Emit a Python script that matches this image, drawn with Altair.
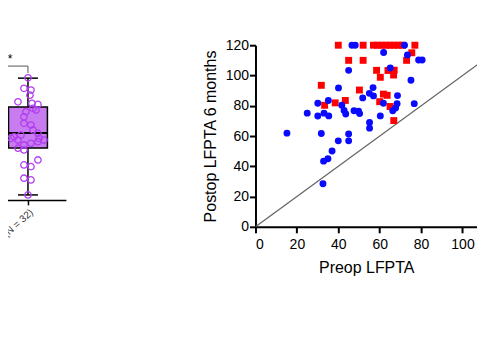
import altair as alt
import pandas as pd

# ---- right panel: scatter ----
red_x = [40, 52, 57, 59, 61, 63, 65, 67, 69, 71, 77, 45, 52, 73, 75.5,
         58.5, 64, 67, 60.3, 66.7, 31.8, 33.4, 38.5, 43.4, 50.2, 61.8, 63.6, 60, 65, 66.8]
red_y = [120, 120, 120, 120, 120, 120, 120, 120, 120, 120, 120, 110, 110, 110, 115,
         103.4, 103.3, 103.5, 98.8, 100.3, 93.5, 80.3, 81.9, 83.5, 90.4, 87.7, 86.9, 82.7, 79.5, 70.2]

blue_x = [46.6, 48.2, 72, 61.9, 73.4, 78.8, 80.5, 65.1, 45, 75.1, 40.1, 56.8, 55, 57, 51.8,
          68.6, 30.1, 35.2, 25, 30.1, 33.1, 35.4, 41.7, 42.8, 43.6, 47.6, 49.8, 50.3,
          61.8, 68.4, 67.7, 66.3, 76.7, 60.3, 55.1, 55.1, 15.2, 31.8, 45, 40, 45,
          37, 35, 32.9, 32.6]
blue_y = [120, 120, 120, 115.2, 113.5, 110.2, 110.2, 104.9, 103.4, 96.8, 91.8, 92, 88.2, 86.5, 85.2,
          86.7, 81.6, 83.5, 75.1, 73.2, 75.1, 73.3, 80.3, 76.9, 74.6, 76.7, 76.4, 74.8,
          81.6, 81.4, 78.5, 76.7, 81.4, 73.3, 68.9, 65.2, 61.9, 61.7, 61.3, 56.8, 56.8,
          50.1, 45, 43.4, 28.5]

diag_x = [0, 120]
diag_y = [0, 120]

x_ticks = [0, 20, 40, 60, 80, 100]
y_ticks = [0, 20, 40, 60, 80, 100, 120]

# ---- left panel: box plot (partial) ----
purple_y = [78.9, 72.1, 71.0, 67.7, 63.4, 62.4, 61.7, 59.2, 58.1, 57.0, 53.7, 49.5, 48.4,
            45.2, 43.0, 41.9, 40.8, 39.8, 38.7, 39.8, 38.7, 37.6, 36.6, 35.5, 33.4, 32.3,
            25.8, 22.6, 21.5, 14.0, 12.9, 3.2]
purple_jitter = [0, -4, 3, 2, -10, 4, 10, 5, 8, -2, -4, -4, 3, 5, 10, -7, -14, -17, -10,
                 11, 16, 10, 3, -4, -10, -4, 10, -4, 3, -4, 3, 0]
box_stats = {"min": 3.2, "q1": 33.5, "median": 43.2, "q3": 60.0, "max": 78.7}
group_label = "(N = 32)"
bracket_y = [86.5, 82.1]

FONT = "Liberation Sans"

red_df = pd.DataFrame({"x": red_x, "y": red_y})
blue_df = pd.DataFrame({"x": blue_x, "y": blue_y})
diag_df = pd.DataFrame({"x": diag_x, "y": diag_y})

xs = alt.Scale(domain=[0, 107], nice=False)
ys = alt.Scale(domain=[0, 120], nice=False)

xaxis = alt.Axis(values=x_ticks, title="Preop LFPTA", grid=False, domainColor="black",
                 domainWidth=2, tickColor="black", tickWidth=2, tickSize=6,
                 labelFontSize=14, labelColor="black", labelPadding=5, titleFontSize=16,
                 titleFontWeight="normal", titleColor="black", titlePadding=8,
                 labelFont=FONT, titleFont=FONT, labelOverlap=False)
yaxis = alt.Axis(values=y_ticks, title="Postop LFPTA 6 months", grid=False, domainColor="black",
                 domainWidth=2, tickColor="black", tickWidth=2, tickSize=6,
                 labelFontSize=14, labelColor="black", labelPadding=1, titleFontSize=16,
                 titleFontWeight="normal", titleColor="black", titlePadding=7,
                 labelFont=FONT, titleFont=FONT, labelOverlap=False)

diag = alt.Chart(diag_df).mark_line(color="#666666", strokeWidth=1.2, clip=True)
reds = alt.Chart(red_df).mark_square(color="#ff0000", opacity=1, size=48)
blues = alt.Chart(blue_df).mark_circle(color="#0a0aff", opacity=1, size=48)

right = alt.layer(diag, reds, blues).encode(
    x=alt.X("x:Q", scale=xs, axis=xaxis),
    y=alt.Y("y:Q", scale=ys, axis=yaxis),
).properties(width=222, height=182)

# left panel
lx = alt.Scale(domain=[-38, 38], nice=False)
ly = alt.Scale(domain=[0, 100], nice=False)
left_xaxis = alt.Axis(values=[0], labelExpr=f"'{group_label}'", grid=False, title=None,
                      domainColor="black", domainWidth=1.5, tickColor="black", tickWidth=1.5,
                      tickSize=5, labelAngle=-42, labelFontSize=10, labelColor="#333333",
                      labelFont=FONT, labelPadding=2)

pts_df = pd.DataFrame({"j": purple_jitter, "v": purple_y})
stats_df = pd.DataFrame([box_stats])
br_df = pd.DataFrame({"y1": [bracket_y[0]], "y2": [bracket_y[1]]})

base_axis = alt.Chart(stats_df).mark_rule(opacity=0).encode(
    x=alt.X(datum=0, type="quantitative", scale=lx, axis=left_xaxis),
    y=alt.Y(datum=0, type="quantitative", scale=ly, axis=None))
wh_top = alt.Chart(stats_df).mark_rule(color="black", strokeWidth=1.5).encode(
    x=alt.X(datum=0, type="quantitative", scale=lx), y=alt.Y("q3:Q", scale=ly), y2="max:Q")
wh_bot = alt.Chart(stats_df).mark_rule(color="black", strokeWidth=1.5).encode(
    x=alt.X(datum=0, type="quantitative", scale=lx), y=alt.Y("min:Q", scale=ly), y2="q1:Q")
cap_top = alt.Chart(stats_df).mark_rule(color="black", strokeWidth=1.5).encode(
    x=alt.X(datum=-10, type="quantitative", scale=lx), x2=alt.datum(10),
    y=alt.Y("max:Q", scale=ly))
cap_bot = alt.Chart(stats_df).mark_rule(color="black", strokeWidth=1.5).encode(
    x=alt.X(datum=-10, type="quantitative", scale=lx), x2=alt.datum(10),
    y=alt.Y("min:Q", scale=ly))
box = alt.Chart(stats_df).mark_rect(fill="#c97cef", stroke="black", strokeWidth=1.5).encode(
    x=alt.X(datum=-19.5, type="quantitative", scale=lx), x2=alt.datum(19.5),
    y=alt.Y("q1:Q", scale=ly), y2="q3:Q")
med = alt.Chart(stats_df).mark_rule(color="black", strokeWidth=2).encode(
    x=alt.X(datum=-19.5, type="quantitative", scale=lx), x2=alt.datum(19.5),
    y=alt.Y("median:Q", scale=ly))
pts = alt.Chart(pts_df).mark_point(shape="circle", filled=False, color="#b13ff0",
                                   strokeWidth=1.3, size=42, opacity=1).encode(
    x=alt.X("j:Q", scale=lx), y=alt.Y("v:Q", scale=ly))
br_h = alt.Chart(br_df).mark_rule(color="#555555", strokeWidth=1).encode(
    x=alt.X(datum=-38, type="quantitative", scale=lx), x2=alt.datum(0),
    y=alt.Y("y1:Q", scale=ly))
br_v = alt.Chart(br_df).mark_rule(color="#555555", strokeWidth=1).encode(
    x=alt.X(datum=0, type="quantitative", scale=lx), y=alt.Y("y1:Q", scale=ly), y2="y2:Q")
star = alt.Chart(br_df).mark_text(text="*", fontSize=12, font=FONT, color="black",
                                  baseline="middle").encode(
    x=alt.X(datum=-18, type="quantitative", scale=lx), y=alt.datum(91))

left = alt.layer(base_axis, wh_top, wh_bot, cap_top, cap_bot, box, med, pts,
                 br_h, br_v, star).properties(width=76, height=155)

chart = alt.hconcat(left, right, spacing=190, bounds="flush").properties(
    padding={"left": -19, "top": 30, "right": 0, "bottom": 5}
).configure_view(stroke=None)

chart.save("out.html", embed_options={"renderer": "svg", "actions": False})
